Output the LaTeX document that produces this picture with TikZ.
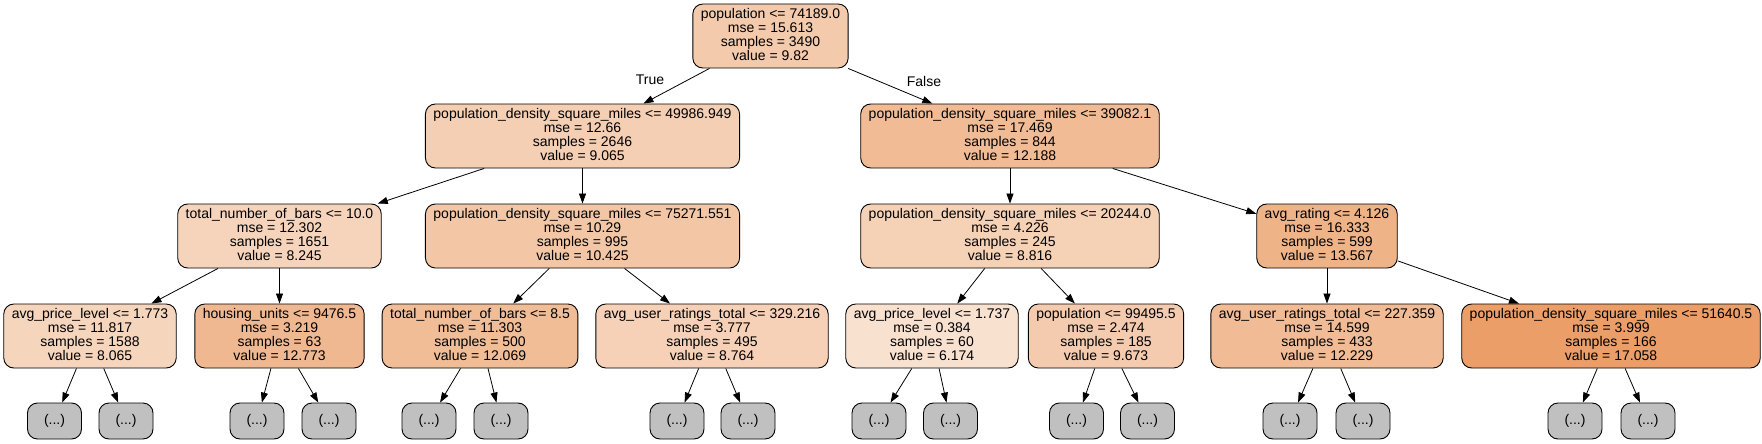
\documentclass[tikz,border=0pt]{standalone}
\usepackage{fontspec}
\setmainfont{Liberation Sans}
\usetikzlibrary{arrows.meta}
\definecolor{croot}{RGB}{244,202,172}
\definecolor{cA}{RGB}{245,207,180}
\definecolor{cB}{RGB}{241,188,149}
\definecolor{cAa}{RGB}{246,212,188}
\definecolor{cAb}{RGB}{243,199,166}
\definecolor{cBa}{RGB}{245,209,182}
\definecolor{cBb}{RGB}{239,179,136}
\definecolor{cAaa}{RGB}{246,213,189}
\definecolor{cAab}{RGB}{240,184,144}
\definecolor{cAba}{RGB}{241,189,151}
\definecolor{cAbb}{RGB}{246,209,183}
\definecolor{cBaa}{RGB}{249,225,208}
\definecolor{cBab}{RGB}{244,203,174}
\definecolor{cBba}{RGB}{241,188,149}
\definecolor{cBbb}{RGB}{235,158,103}
\definecolor{leafgray}{RGB}{192,192,192}
\newcommand{\tlab}[4]{\rule{0pt}{10pt}#1\\mse = #2\\samples = #3\\value = #4\rule[-3pt]{0pt}{3pt}}
\begin{document}
\begin{tikzpicture}[x=1pt,y=-1pt,
  tn/.style={draw=black, line width=0.9pt, rounded corners=10pt, align=center,
    font=\fontsize{14}{14}\selectfont, inner xsep=8pt, inner ysep=0pt, minimum height=64pt},
  lf/.style={draw=black, line width=0.9pt, rounded corners=10pt, fill=leafgray,
    font=\fontsize{14}{14}\selectfont, minimum width=54pt, minimum height=36pt, inner sep=0pt},
  ed/.style={-{Triangle[length=10pt,width=7pt]}, line width=0.8pt},
  el/.style={font=\fontsize{14}{14}\selectfont, inner sep=0pt}]
\useasboundingbox[fill=white] (0,0) rectangle (1762,444);
% level 0
\node[tn, fill=croot] (r) at (770.5,36) {\tlab{population <= 74189.0}{15.613}{3490}{9.82}};
% level 1
\node[tn, fill=cA] (A) at (582.5,136) {\tlab{population\_density\_square\_miles <= 49986.949}{12.66}{2646}{9.065}};
\node[tn, fill=cB] (B) at (1010,136) {\tlab{population\_density\_square\_miles <= 39082.1}{17.469}{844}{12.188}};
% level 2
\node[tn, fill=cAa] (Aa) at (279.5,236) {\tlab{total\_number\_of\_bars <= 10.0}{12.302}{1651}{8.245}};
\node[tn, fill=cAb] (Ab) at (582.5,236) {\tlab{population\_density\_square\_miles <= 75271.551}{10.29}{995}{10.425}};
\node[tn, fill=cBa] (Ba) at (1010,236) {\tlab{population\_density\_square\_miles <= 20244.0}{4.226}{245}{8.816}};
\node[tn, fill=cBb] (Bb) at (1327,236) {\tlab{avg\_rating <= 4.126}{16.333}{599}{13.567}};
% level 3
\node[tn, fill=cAaa] (Aaa) at (90,336) {\tlab{avg\_price\_level <= 1.773}{11.817}{1588}{8.065}};
\node[tn, fill=cAab] (Aab) at (279.5,336) {\tlab{housing\_units <= 9476.5}{3.219}{63}{12.773}};
\node[tn, fill=cAba] (Aba) at (480,336) {\tlab{total\_number\_of\_bars <= 8.5}{11.303}{500}{12.069}};
\node[tn, fill=cAbb] (Abb) at (712,336) {\tlab{avg\_user\_ratings\_total <= 329.216}{3.777}{495}{8.764}};
\node[tn, fill=cBaa] (Baa) at (932,336) {\tlab{avg\_price\_level <= 1.737}{0.384}{60}{6.174}};
\node[tn, fill=cBab] (Bab) at (1106,336) {\tlab{population <= 99495.5}{2.474}{185}{9.673}};
\node[tn, fill=cBba] (Bba) at (1327,336) {\tlab{avg\_user\_ratings\_total <= 227.359}{14.599}{433}{12.229}};
\node[tn, fill=cBbb] (Bbb) at (1611,336) {\tlab{population\_density\_square\_miles <= 51640.5}{3.999}{166}{17.058}};
% level 4
\node[lf] (l1) at (54.5,421) {(...)};
\node[lf] (l2) at (126,421) {(...)};
\node[lf] (l3) at (257,421) {(...)};
\node[lf] (l4) at (329,421) {(...)};
\node[lf] (l5) at (429,421) {(...)};
\node[lf] (l6) at (501,421) {(...)};
\node[lf] (l7) at (677,421) {(...)};
\node[lf] (l8) at (748,421) {(...)};
\node[lf] (l9) at (879,421) {(...)};
\node[lf] (l10) at (950.5,421) {(...)};
\node[lf] (l11) at (1076.5,421) {(...)};
\node[lf] (l12) at (1147.5,421) {(...)};
\node[lf] (l13) at (1290,421) {(...)};
\node[lf] (l14) at (1363,421) {(...)};
\node[lf] (l15) at (1575,421) {(...)};
\node[lf] (l16) at (1648,421) {(...)};
% edges
\draw[ed] (r) -- (A);
\draw[ed] (r) -- (B);
\draw[ed] (A) -- (Aa);
\draw[ed] (A) -- (Ab);
\draw[ed] (B) -- (Ba);
\draw[ed] (B) -- (Bb);
\draw[ed] (Aa) -- (Aaa);
\draw[ed] (Aa) -- (Aab);
\draw[ed] (Ab) -- (Aba);
\draw[ed] (Ab) -- (Abb);
\draw[ed] (Ba) -- (Baa);
\draw[ed] (Ba) -- (Bab);
\draw[ed] (Bb) -- (Bba);
\draw[ed] (Bb) -- (Bbb);
\draw[ed] (Aaa) -- (l1);
\draw[ed] (Aaa) -- (l2);
\draw[ed] (Aab) -- (l3);
\draw[ed] (Aab) -- (l4);
\draw[ed] (Aba) -- (l5);
\draw[ed] (Aba) -- (l6);
\draw[ed] (Abb) -- (l7);
\draw[ed] (Abb) -- (l8);
\draw[ed] (Baa) -- (l9);
\draw[ed] (Baa) -- (l10);
\draw[ed] (Bab) -- (l11);
\draw[ed] (Bab) -- (l12);
\draw[ed] (Bba) -- (l13);
\draw[ed] (Bba) -- (l14);
\draw[ed] (Bbb) -- (l15);
\draw[ed] (Bbb) -- (l16);
% edge labels
\node[el] (tl) at (650,80) {True};
\node[el] (fl) at (924,81) {False};
\end{tikzpicture}
\end{document}
